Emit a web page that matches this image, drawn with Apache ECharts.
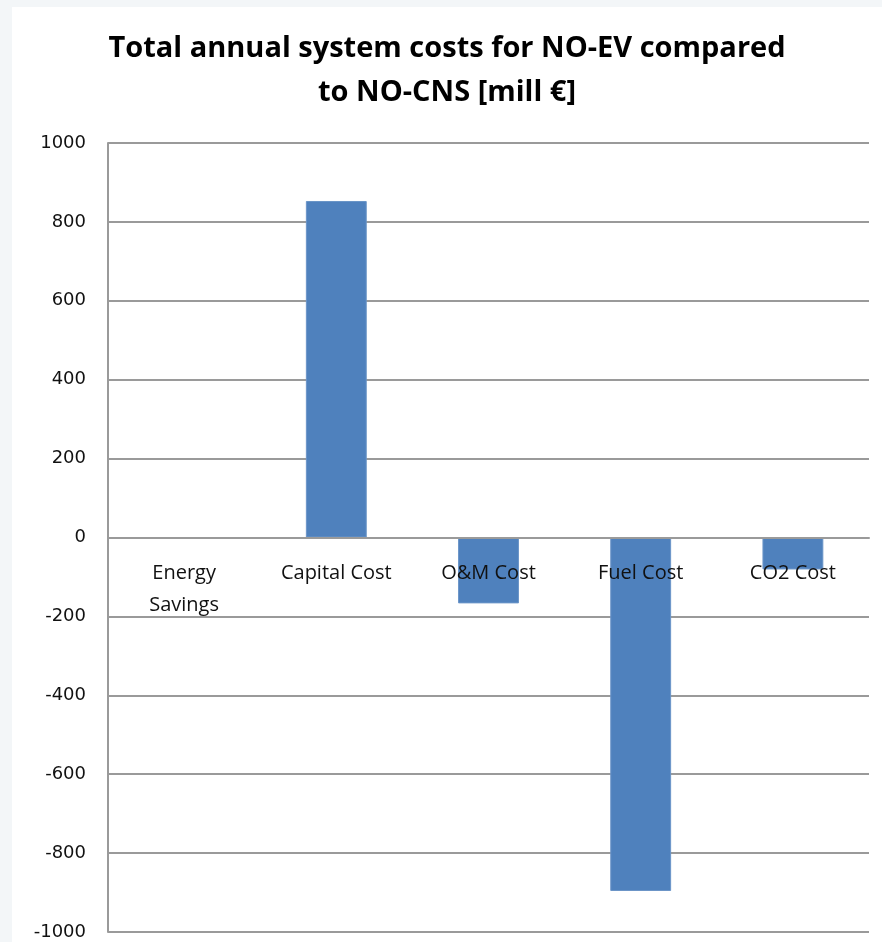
<!DOCTYPE html>
<html>
<head>
<meta charset="utf-8">
<script src="https://cdn.jsdelivr.net/npm/echarts@6/dist/echarts.min.js"></script>
<style>
  html, body { margin: 0; padding: 0; background: #f3f6f8; }
  #chart { position: absolute; left: 12px; top: 7px; width: 870px; height: 935px; background: #ffffff; }
</style>
</head>
<body>
<div id="chart"></div>
<script>
// Cost components (difference NO-EV minus NO-CNS), million EUR per year
const categories = ['Energy\nSavings', 'Capital Cost', 'O&M Cost', 'Fuel Cost', 'CO2 Cost'];
const costDiff = [0, 853, -167, -896, -81];
const yTicks = { min: -1000, max: 1000, step: 200 };

// plot box inside the chart container
const gridBox = { left: 96, right: 13, top: 136, bottom: 10 };
const plotHeight = 935 - gridBox.top - gridBox.bottom;
// distance from the bottom of the plot up to the zero line
const zeroLift = plotHeight * (0 - yTicks.min) / (yTicks.max - yTicks.min);

const chart = echarts.init(document.getElementById('chart'));
chart.setOption({
  animation: false,
  title: {
    text: 'Total annual system costs for NO-EV compared\nto NO-CNS [mill €]',
    left: 'center',
    top: 20,
    padding: [0, 0, 0, 12],
    textStyle: {
      fontFamily: 'Open Sans',
      fontWeight: 'bold',
      fontSize: 29,
      lineHeight: 44,
      color: '#000000'
    }
  },
  grid: Object.assign({ outerBoundsMode: 'none', containLabel: false }, gridBox),
  xAxis: {
    type: 'category',
    data: categories,
    z: 5,
    offset: -zeroLift,
    axisLine: { show: true, onZero: false, lineStyle: { color: '#9a9a9a', width: 2 } },
    axisTick: { show: false },
    axisLabel: {
      margin: 20,
      fontFamily: 'Open Sans',
      fontSize: 20,
      lineHeight: 32,
      color: '#111111',
      interval: 0
    },
    splitLine: { show: false }
  },
  yAxis: {
    type: 'value',
    min: yTicks.min,
    max: yTicks.max,
    interval: yTicks.step,
    axisLine: { show: true, lineStyle: { color: '#9a9a9a', width: 2 } },
    axisTick: { show: false },
    axisLabel: {
      margin: 22,
      fontFamily: 'DejaVu Sans',
      fontSize: 18,
      color: '#111111',
      formatter: v => String(v)
    },
    splitLine: { show: true, lineStyle: { color: '#9a9a9a', width: 2 } }
  },
  series: [{
    type: 'bar',
    data: costDiff,
    barWidth: '40%',
    itemStyle: { color: '#4f81bd', borderColor: '#6b95c8', borderWidth: 1 }
  }]
});
</script>
</body>
</html>
